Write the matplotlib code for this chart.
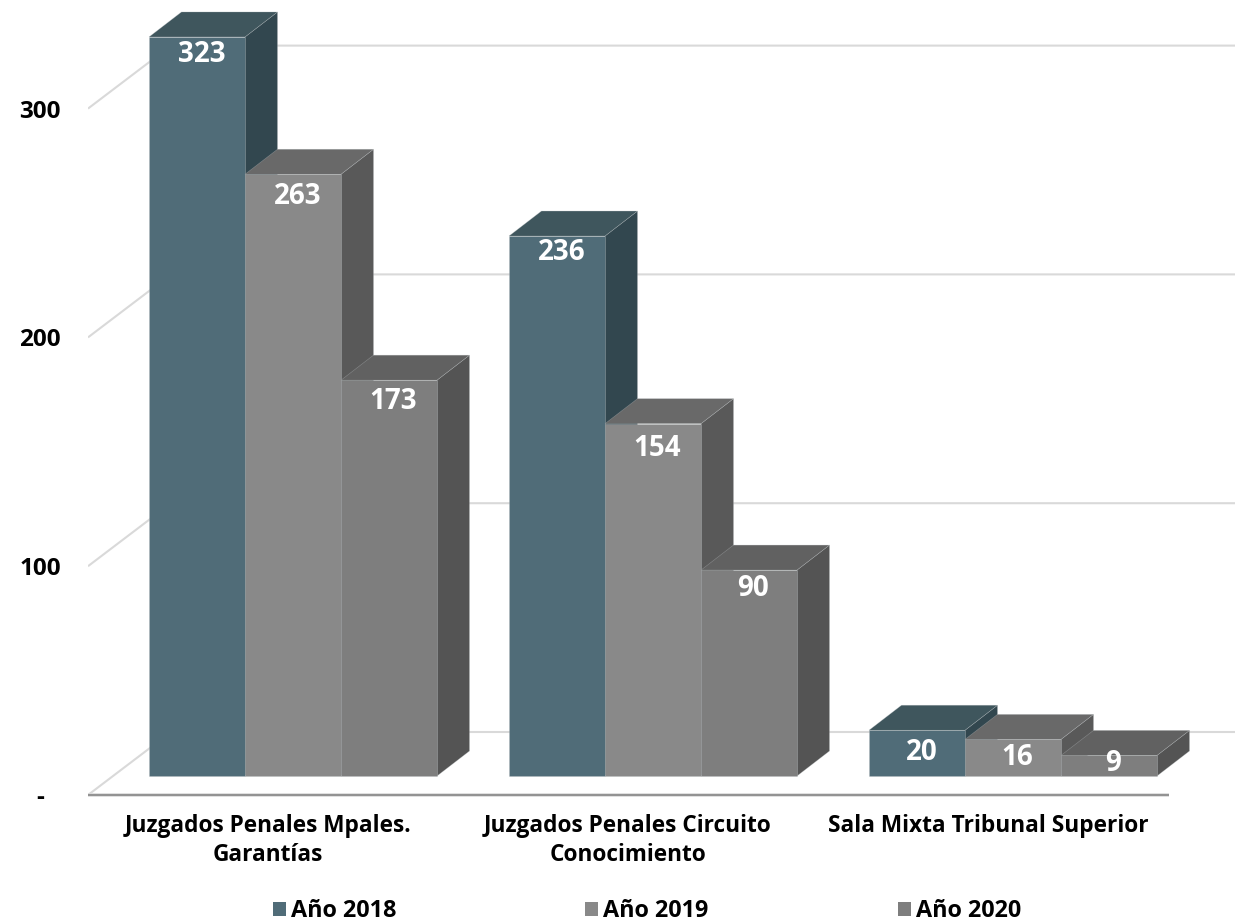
import matplotlib
matplotlib.use("Agg")
import matplotlib.pyplot as plt

categories = ["Juzgados Penales Mpales.\nGarantías",
              "Juzgados Penales Circuito\nConocimiento",
              "Sala Mixta Tribunal Superior"]
years = ["Año 2018", "Año 2019", "Año 2020"]
v2018 = [323, 236, 20]
v2019 = [263, 154, 16]
v2020 = [173, 90, 9]
y_ticks = [0, 100, 200, 300]
y_tick_labels = ["-", "100", "200", "300"]

front_cols = ["#506C78", "#898989", "#7E7E7E"]
top_cols = ["#3F565D", "#696969", "#616161"]
side_cols = ["#32474F", "#595959", "#545454"]
GRID = "#D9D9D9"

plt.rcParams["font.family"] = ["Open Sans", "DejaVu Sans"]
plt.rcParams["font.weight"] = "bold"

W, H = 1235, 921
PX_X = 360.0          # pixels per category
PX_Y = 2.288          # pixels per value unit
L, R, T, B = 88, 1235, 0, 795
ZERO_PX = 776
CAT0_PX = 293

fig = plt.figure(figsize=(W / 100, H / 100), dpi=100, facecolor="white")
ax = fig.add_axes([L / W, 1 - B / H, (R - L) / W, (B - T) / H])
ax.set_xlim((L - CAT0_PX) / PX_X, (R - CAT0_PX) / PX_X)
ax.set_ylim(-(B - ZERO_PX) / PX_Y, (ZERO_PX - T) / PX_Y)
ax.set_facecolor("none")
for s in ax.spines.values():
    s.set_visible(False)

floor_y = -(B - ZERO_PX) / PX_Y
wall_dx, wall_dy = 83 / PX_X, 63 / PX_Y
x0 = (L - CAT0_PX) / PX_X
x_end_front = (1169 - CAT0_PX) / PX_X

# walls / gridlines
for t in y_ticks:
    yf = floor_y + t
    ax.plot([x0, x0 + wall_dx, ax.get_xlim()[1]], [yf, yf + wall_dy, yf + wall_dy],
            color=GRID, lw=1.5, zorder=1, solid_capstyle="butt", clip_on=True)
ax.plot([x0, x_end_front], [floor_y, floor_y], color=GRID, lw=2.6, zorder=2, clip_on=False,
        solid_capstyle="butt")
ax.plot([x0, x_end_front], [floor_y + 0.2, floor_y + 0.2], color="#8C8C8C", lw=1.3, zorder=2,
        clip_on=False, solid_capstyle="butt")

# bars
bw = 96 / PX_X
dx, dy = 32.5 / PX_X, 25 / PX_Y
series = [v2018, v2019, v2020]
edge = (0.72, 0.74, 0.75, 0.45)
z = 3
label_nudge_px = [[1, -1, 5], [5, 8, 1], [4, 1, -9]]
handles = []
for ci in range(len(categories)):
    for si, vals in enumerate(series):
        v = vals[ci]
        xl = ci + (si - 1) * bw - bw / 2
        xr = xl + bw
        ax.fill([xr, xr + dx, xr + dx, xr], [0, dy, v + dy, v],
                facecolor=side_cols[si], edgecolor=edge, lw=0.4, zorder=z)
        ax.fill([xl, xl + dx, xr + dx, xr], [v, v + dy, v + dy, v],
                facecolor=top_cols[si], edgecolor=edge, lw=0.4, zorder=z)
        bar = ax.bar(xl, v, width=bw, align="edge", color=front_cols[si],
                     edgecolor=edge, linewidth=0.5, zorder=z,
                     label=years[si] if ci == 0 else None)
        if ci == 0:
            handles.append(bar)
        off = 17 + label_nudge_px[si][ci]
        ax.text(xl + bw / 2 + 4.5 / PX_X, v - off / PX_Y, str(v), color="white",
                fontsize=20, fontweight="bold", ha="center", va="center", zorder=z + 1)
        z += 1

ax.set_xticks([c - 25 / PX_X for c in range(len(categories))])
ax.set_xticklabels(categories, fontsize=16.3, fontweight="bold", linespacing=1.28)
ax.set_yticks([floor_y + t for t in y_ticks])
ax.set_yticklabels(y_tick_labels, fontsize=17.5, fontweight="bold", ha="center")
ax.tick_params(axis="x", length=0, pad=13.5, colors="black")
ax.tick_params(axis="y", length=0, pad=34.5, colors="black")

leg = ax.legend(handles=handles, labels=years, ncol=3, frameon=False,
                loc="center", bbox_to_anchor=(647 / W, 1 - 911 / H),
                bbox_transform=fig.transFigure, fontsize=16.8, borderpad=0, borderaxespad=0,
                handlelength=0.557, handleheight=0.557, handletextpad=0.21, columnspacing=8.1)
for h in leg.legend_handles:
    h.set_edgecolor("none")

fig.savefig("out.png", dpi=100, facecolor="white")
